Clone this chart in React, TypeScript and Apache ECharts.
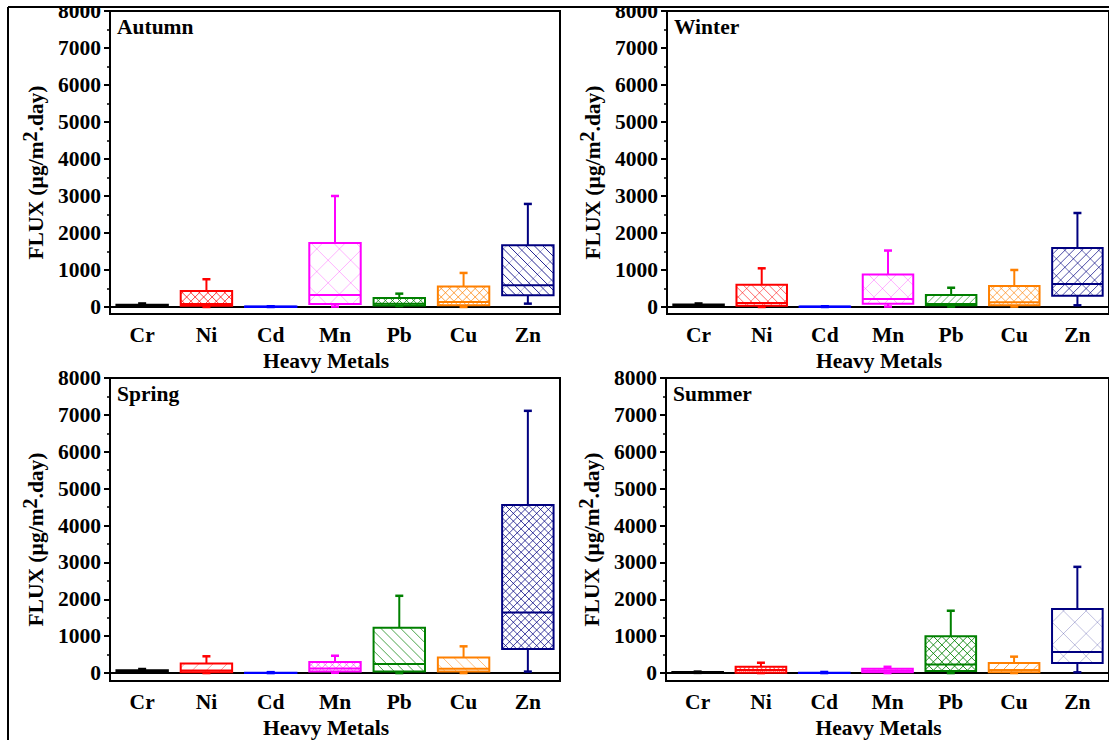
import React, { useEffect, useRef } from "react";
import * as echarts from "echarts";

const metals = ["Cr", "Ni", "Cd", "Mn", "Pb", "Cu", "Zn"];
const yTicks = [0, 1000, 2000, 3000, 4000, 5000, 6000, 7000, 8000];
const yMinorTicks = [500, 1500, 2500, 3500, 4500, 5500, 6500, 7500];
const seasons = ["Autumn", "Winter", "Spring", "Summer"];

// each row: [min, Q1, median, Q3, max] in µg/m².day, order = metals
const autumn = [
  [10, 20, 40, 60, 95],
  [0, 30, 80, 430, 750],
  [0, 2, 5, 10, 20],
  [10, 80, 325, 1730, 3000],
  [25, 40, 90, 245, 360],
  [0, 45, 135, 550, 920],
  [90, 315, 585, 1665, 2785],
];
const winter = [
  [10, 20, 45, 65, 95],
  [0, 30, 110, 600, 1045],
  [0, 2, 5, 10, 20],
  [10, 90, 215, 875, 1525],
  [10, 45, 80, 325, 520],
  [10, 45, 125, 570, 1000],
  [45, 300, 620, 1595, 2540],
];
const spring = [
  [10, 25, 50, 75, 110],
  [0, 20, 70, 262, 455],
  [0, 0, 5, 10, 25],
  [10, 45, 125, 300, 470],
  [0, 45, 245, 1230, 2095],
  [0, 45, 115, 425, 725],
  [40, 650, 1645, 4560, 7110],
];
const summer = [
  [5, 10, 20, 30, 40],
  [0, 10, 80, 170, 280],
  [0, 0, 5, 10, 30],
  [0, 20, 65, 115, 170],
  [0, 55, 235, 995, 1690],
  [0, 20, 80, 270, 445],
  [20, 270, 570, 1735, 2880],
];
const seasonData = [autumn, winter, spring, summer];

// styles
const metalColors = ["#000000", "#ff0000", "#0000ff", "#ff00ff", "#008000", "#ff8000", "#000080"];
// hatch: [direction (1 = "/", -1 = "\"), spacing px, opacity]
const hatchStyles: number[][][][] = [
  [[], [[1, 6, 0.75], [-1, 6, 0.75]], [], [[1, 16, 0.3], [-1, 16, 0.3]], [[1, 5, 0.75], [-1, 5, 0.75]], [[1, 6, 0.75], [-1, 6, 0.75]], [[-1, 6, 0.85], [1, 14, 0.3]]],
  [[], [[-1, 6, 0.6], [1, 12, 0.5]], [], [[1, 12, 0.3], [-1, 12, 0.3]], [[1, 5, 0.6]], [[1, 6, 0.65], [-1, 6, 0.65]], [[1, 6, 0.7], [-1, 12, 0.6]]],
  [[], [[1, 10, 0.4]], [], [[1, 5, 0.5], [-1, 5, 0.5]], [[-1, 7, 0.7]], [[-1, 8, 0.5]], [[1, 5.5, 0.75], [-1, 5.5, 0.75]]],
  [[], [[1, 3, 0.5], [-1, 3, 0.5]], [], [[1, 4, 0.4], [-1, 4, 0.4]], [[1, 6, 0.85], [-1, 6, 0.85]], [[1, 7, 0.7]], [[1, 16, 0.25], [-1, 16, 0.25]]],
];
const panels = [
  { left: 110, top: 11, width: 450, height: 303, min: -190 },
  { left: 667, top: 11, width: 451, height: 303, min: -190 },
  { left: 110, top: 378, width: 450, height: 304, min: -215 },
  { left: 666, top: 378, width: 451, height: 304, min: -215 },
];

const FONT = "'Liberation Serif', 'Times New Roman', serif";
const bold = { color: "#000", fontFamily: FONT, fontWeight: "bold" as const, fontSize: 21.5 };

function hatchLines(x0: number, y0: number, x1: number, y1: number, dir: number, sp: number) {
  const step = sp * Math.SQRT2;
  const segs: number[][] = [];
  if (dir > 0) {
    const cMin = x0 + y0, cMax = x1 + y1;
    for (let c = Math.ceil(cMin / step) * step; c <= cMax; c += step) {
      const xa = Math.max(x0, c - y1), xb = Math.min(x1, c - y0);
      if (xb > xa) segs.push([xa, c - xa, xb, c - xb]);
    }
  } else {
    const cMin = x0 - y1, cMax = x1 - y0;
    for (let c = Math.ceil(cMin / step) * step; c <= cMax; c += step) {
      const xa = Math.max(x0, c + y0), xb = Math.min(x1, c + y1);
      if (xb > xa) segs.push([xa, xa - c, xb, xb - c]);
    }
  }
  return segs;
}

function makeRenderItem(si: number) {
  return (params: any, api: any) => {
    const cat = api.value(0);
    const vals = [1, 2, 3, 4, 5].map((d) => api.value(d));
    const color = metalColors[cat];
    const bandW = api.size([1, 0])[0];
    const bw = bandW * 0.8;
    const pts = vals.map((v) => api.coord([cat, v]));
    const cx = pts[0][0];
    const yMin = pts[0][1], yQ1 = pts[1][1], yMed = pts[2][1], yQ3 = pts[3][1], yMax = pts[4][1];
    const x0 = cx - bw / 2, x1 = cx + bw / 2;
    const children: any[] = [];
    const specs = hatchStyles[si][cat] || [];
    specs.forEach((s) => {
      hatchLines(x0, yQ3, x1, yQ1, s[0], s[1]).forEach((g) => {
        children.push({
          type: "line",
          shape: { x1: g[0], y1: g[1], x2: g[2], y2: g[3] },
          style: { stroke: color, lineWidth: 1, opacity: s[2] },
        });
      });
    });
    const lw = { stroke: color, lineWidth: 2 };
    children.push({ type: "line", shape: { x1: cx, y1: yQ3, x2: cx, y2: yMax }, style: lw });
    children.push({ type: "line", shape: { x1: cx, y1: yQ1, x2: cx, y2: yMin }, style: lw });
    children.push({ type: "line", shape: { x1: cx - 4, y1: yMax, x2: cx + 4, y2: yMax }, style: { stroke: color, lineWidth: 2.5 } });
    children.push({ type: "line", shape: { x1: cx - 4, y1: yMin, x2: cx + 4, y2: yMin }, style: { stroke: color, lineWidth: 2.5 } });
    children.push({
      type: "rect",
      shape: { x: x0, y: yQ3, width: bw, height: Math.max(yQ1 - yQ3, 0.3) },
      style: { fill: "none", stroke: color, lineWidth: 2 },
    });
    children.push({ type: "line", shape: { x1: x0, y1: yMed, x2: x1, y2: yMed }, style: lw });
    return { type: "group", children };
  };
}

export default function App() {
  const ref = useRef<HTMLDivElement>(null);
  useEffect(() => {
    if (!ref.current) return;
    const chart = echarts.init(ref.current, null, { renderer: "svg" });
    const grid = panels.map((p) => ({
      left: p.left, top: p.top, width: p.width, height: p.height,
      show: true, borderColor: "#000", borderWidth: 2, backgroundColor: "transparent",
    }));
    const xAxis = panels.map((p, i) => ({
      type: "category", gridIndex: i, data: metals, boundaryGap: true,
      axisLine: { lineStyle: { color: "#000", width: 2 } },
      axisTick: { alignWithLabel: true, length: 5, lineStyle: { color: "#000", width: 2 } },
      axisLabel: { ...bold, margin: 10 },
      splitLine: { show: false },
      name: "Heavy Metals", nameLocation: "middle", nameGap: 36,
      nameTextStyle: { ...bold, padding: [0, 18, 0, 0] },
    }));
    const yAxis: any[] = [];
    panels.forEach((p, i) => {
      yAxis.push({
        type: "value", gridIndex: i, position: "left", min: p.min, max: 8000,
        axisLine: { show: true, lineStyle: { color: "#000", width: 2 } },
        axisTick: { show: true, length: 6, customValues: yTicks, lineStyle: { color: "#000", width: 2 } },
        axisLabel: { ...bold, margin: 9, customValues: yTicks, formatter: (v: number) => String(v) },
        splitLine: { show: false },
        name: "{a|FLUX (µg/m}{s|2}{a|.day)}", nameLocation: "middle", nameGap: 63,
        nameTextStyle: {
          padding: [0, 20, 0, 0],
          rich: {
            a: { ...bold, lineHeight: 22, verticalAlign: "bottom" },
            s: { ...bold, fontSize: 20, lineHeight: 34, verticalAlign: "middle" },
          },
        },
      });
      yAxis.push({
        type: "value", gridIndex: i, position: "left", min: p.min, max: 8000,
        axisLine: { show: false },
        axisTick: { show: true, length: 3, customValues: yMinorTicks, lineStyle: { color: "#000", width: 1.5 } },
        axisLabel: { show: false },
        splitLine: { show: false },
      });
    });
    const series = seasonData.map((rows, si) => ({
      type: "custom", xAxisIndex: si, yAxisIndex: si * 2,
      renderItem: makeRenderItem(si),
      encode: { x: 0, y: [1, 2, 3, 4, 5] },
      data: rows.map((r, i) => [i, ...r]),
      clip: false,
    }));
    const title = seasons.map((s, i) => ({
      text: s, left: panels[i].left + 7, top: panels[i].top + 5, padding: 0,
      textStyle: { ...bold },
    }));
    chart.setOption({
      animation: false,
      backgroundColor: "#ffffff",
      title, grid, xAxis, yAxis, series,
      graphic: [
        { type: "rect", shape: { x: 0, y: 0, width: 1109, height: 7 }, style: { fill: "#fff" }, z: 100 },
        { type: "line", shape: { x1: 8, y1: 7, x2: 1109, y2: 7 }, style: { stroke: "#000", lineWidth: 2 }, z: 101 },
        { type: "line", shape: { x1: 8, y1: 7, x2: 8, y2: 740 }, style: { stroke: "#000", lineWidth: 2 }, z: 101 },
      ],
    });
    return () => chart.dispose();
  }, []);
  return <div ref={ref} style={{ position: "absolute", left: 0, top: 0, width: 1109, height: 740 }} />;
}
